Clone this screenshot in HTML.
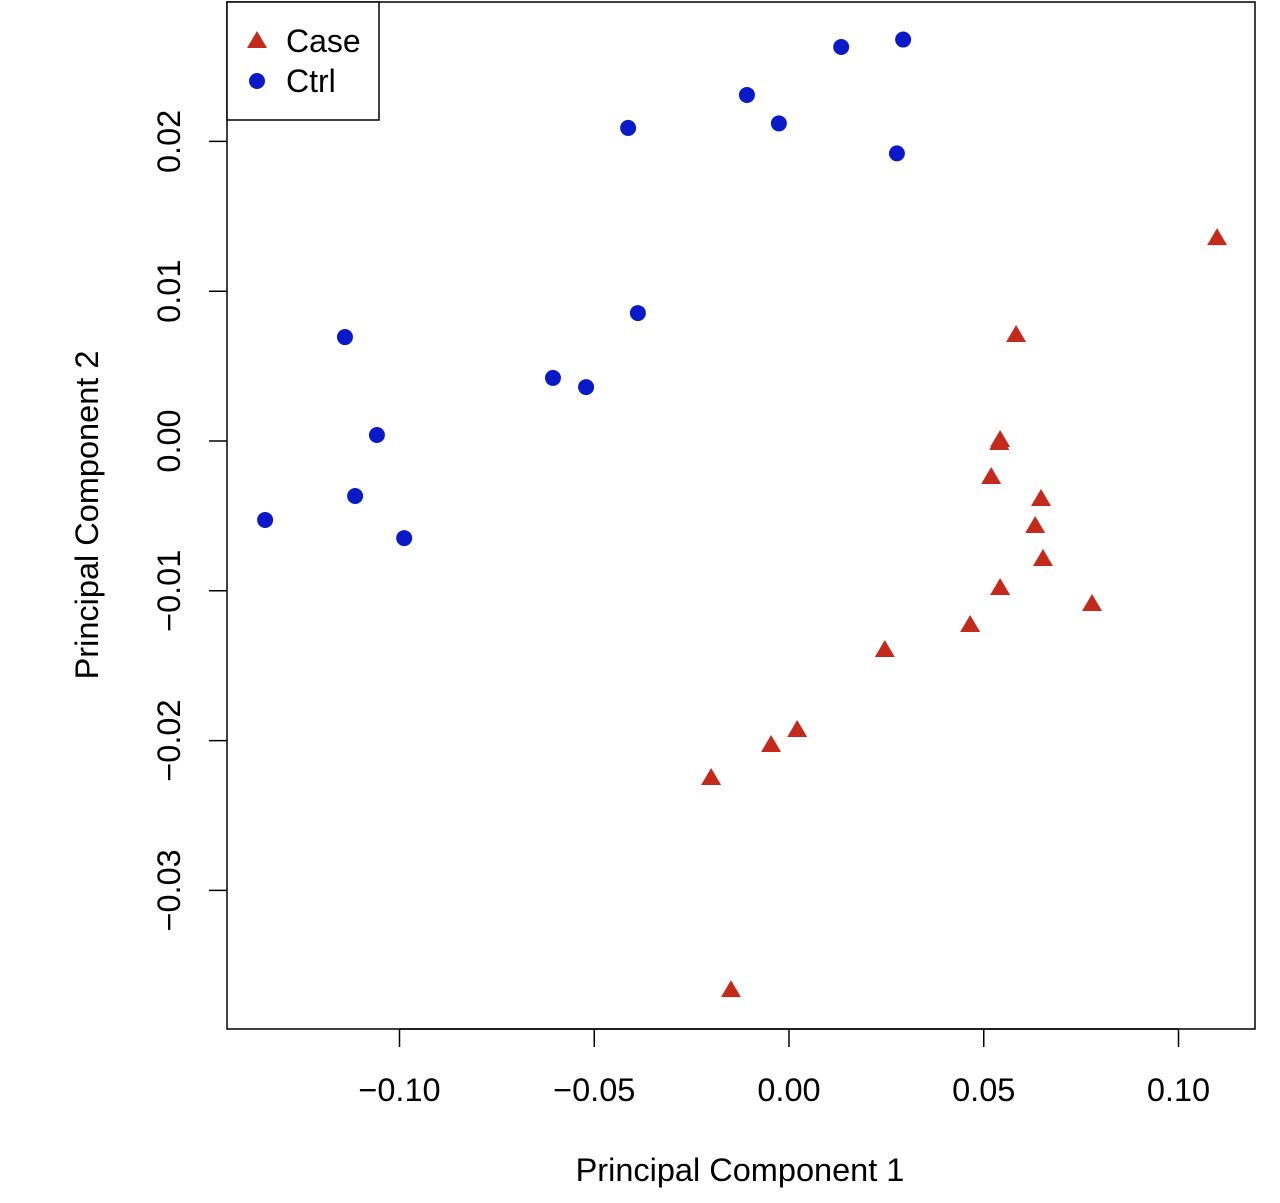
<!DOCTYPE html>
<html><head><meta charset="utf-8"><style>
body{margin:0;background:#fff;}
svg text{font-family:"Liberation Sans",Arial,sans-serif;fill:#000;}
</style></head><body>
<svg id="chart" width="1280" height="1198" viewBox="0 0 1280 1198" xmlns="http://www.w3.org/2000/svg">
<rect x="227" y="2" width="1028" height="1027" fill="none" stroke="#000" stroke-width="1.5"/>
<g id="xaxis"></g>
<g id="yaxis"></g>
<g id="points"></g>
<text x="740" y="1181" font-size="32.5" text-anchor="middle">Principal Component 1</text>
<text transform="translate(98,515) rotate(-90)" font-size="32.5" text-anchor="middle">Principal Component 2</text>
<g>
<rect x="227" y="2" width="152" height="118" fill="#fff" stroke="#000" stroke-width="1.5"/>
<polygon points="257,31 267,48 247,48" fill="#c42a1c"/>
<text x="286" y="52" font-size="32">Case</text>
<circle cx="257" cy="81" r="8" fill="#0a1ac8"/>
<text x="286" y="92" font-size="32">Ctrl</text>
</g>
</svg>
<script>
const xTicks=[-0.10,-0.05,0.00,0.05,0.10];
const xTickLabels=["\u22120.10","\u22120.05","0.00","0.05","0.10"];
const yTicks=[-0.03,-0.02,-0.01,0.00,0.01,0.02];
const yTickLabels=["\u22120.03","\u22120.02","\u22120.01","0.00","0.01","0.02"];
const ctrlX=[0.0134,0.0293,-0.0108,-0.0026,-0.0413,0.0277,-0.0388,-0.1140,-0.0606,-0.0521,-0.1058,-0.1114,-0.1345,-0.0988];
const ctrlY=[0.0263,0.0268,0.0231,0.0212,0.0209,0.0192,0.00854,0.00694,0.00421,0.00360,0.0004,-0.00367,-0.00527,-0.00648];
const caseX=[0.1099,0.0583,0.0542,0.0540,0.0519,0.0647,0.0632,0.0652,0.0542,0.0778,0.0465,0.0246,0.0021,-0.0046,-0.0200,-0.0149];
const caseY=[0.01348,0.00701,0.0000,-0.0002,-0.00247,-0.00394,-0.00574,-0.00794,-0.00988,-0.01095,-0.01235,-0.01402,-0.01936,-0.02036,-0.02256,-0.03672];
const NS="http://www.w3.org/2000/svg";
const sx=v=>789+v*3895;
const sy=v=>441-v*14980;
function mk(tag,attrs,parent){const e=document.createElementNS(NS,tag);for(const k in attrs)e.setAttribute(k,attrs[k]);parent.appendChild(e);return e;}
const xa=document.getElementById('xaxis'),ya=document.getElementById('yaxis'),pts=document.getElementById('points');
mk('line',{x1:sx(xTicks[0]),x2:sx(xTicks[xTicks.length-1]),y1:1029,y2:1029,stroke:'#000','stroke-width':1.5},xa);
xTicks.forEach((t,i)=>{
 const l=mk('line',{x1:sx(t),x2:sx(t),y1:1029,y2:1047,stroke:'#000','stroke-width':1.5},xa);
 
 
 const tx=mk('text',{x:sx(t),y:1101,'font-size':32.5,'text-anchor':'middle'},xa);
 tx.textContent=xTickLabels[i];
 
 
});
yTicks.forEach((t,i)=>{
 const l=mk('line',{x1:209,x2:227,y1:sy(t),y2:sy(t),stroke:'#000','stroke-width':1.5},ya);
 
 
 const tx=mk('text',{transform:`translate(180,${sy(t)}) rotate(-90)`,'font-size':32.5,'text-anchor':'middle'},ya);
 tx.textContent=yTickLabels[i];
 
 
});
ctrlX.forEach((v,i)=>{
 const c=mk('circle',{cx:sx(v),cy:sy(ctrlY[i]),r:8,fill:'#0a1ac8'},pts);
 
 
});
caseX.forEach((v,i)=>{
 const x=sx(v),y=sy(caseY[i]);
 const p=mk('polygon',{points:`${x},${y-11} ${x+10},${y+6} ${x-10},${y+6}`,fill:'#c42a1c'},pts);
 
 
});
</script>
</body></html>
